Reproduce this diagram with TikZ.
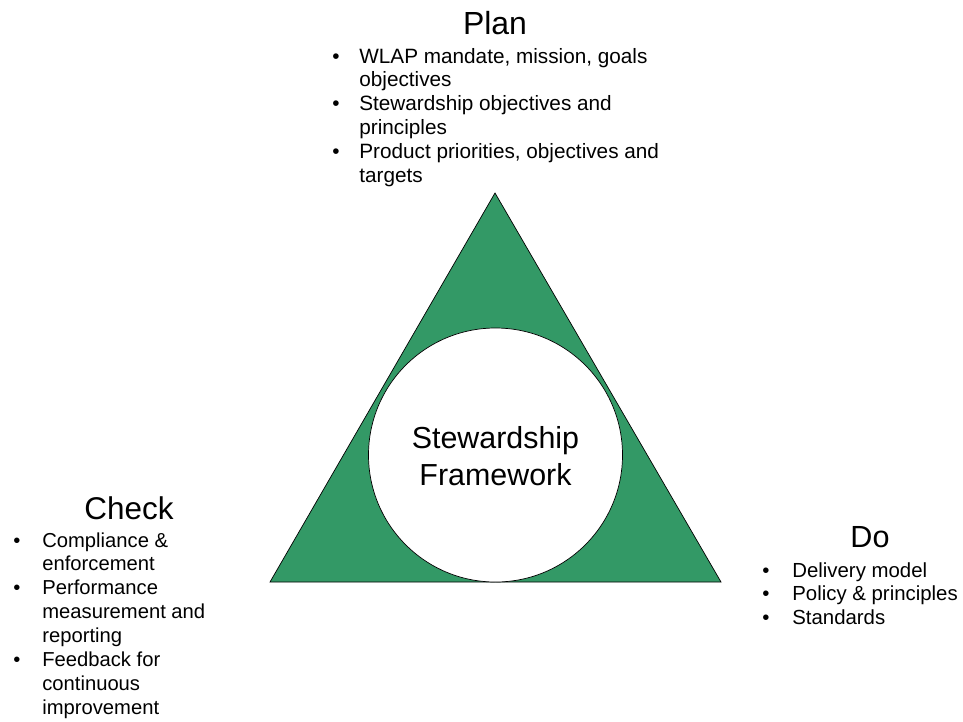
\documentclass[tikz,border=0pt]{standalone}
\usepackage{fontspec}
\setmainfont{Liberation Sans}
\usepackage{array}
\usepackage{tikz}

\definecolor{stewgreen}{RGB}{51,153,102}

% bullet list: first column holds the bullet, second the text
\newcommand{\blist}[2]{\begin{tabular}[t]{@{}p{#1}@{}l@{}}#2\end{tabular}}

\begin{document}
\begin{tikzpicture}[scale=0.2,
		heading/.style={anchor=base, font=\fontsize{#1}{20}\selectfont},
		bullets/.style={anchor=base west, align=left, font=\fontsize{#1}{13.6}\selectfont},
		core/.style={align=center, font=\fontsize{17.3}{21}\selectfont}]
						\tikzstyle{every node}+=[inner sep=0pt]
						\useasboundingbox (0,0) rectangle (96.3,-72.1);
						% triangle with the circle sitting on its base
						\filldraw [fill=stewgreen, draw=black, line width=0.4pt] (27,-58.2) -- (49.5,-19.3) -- (72.1,-58.2) -- cycle;
						\filldraw [fill=white, draw=black, line width=0.4pt] (49.55,-45.5) circle (12.7);
						\node [core] (frame) at (49.55,-45.6) {Stewardship\\Framework};
						% plan
						\node [heading=18.2] (plan) at (49.5,-3.5) {Plan};
						\node [bullets=11.8] (planlist) at (33.2,-6.3) {\blist{0.54cm}{%
							\textbullet & WLAP mandate, mission, goals\\
							& objectives\\
							\textbullet & Stewardship objectives and\\
							& principles\\
							\textbullet & Product priorities, objectives and\\
							& targets}};
						% check
						\node [heading=17.9] (check) at (12.9,-51.9) {Check};
						\node [bullets=11.5] (checklist) at (1.3,-54.7) {\blist{0.58cm}{%
							\textbullet & Compliance \&\\
							& enforcement\\
							\textbullet & Performance\\
							& measurement and\\
							& reporting\\
							\textbullet & Feedback for\\
							& continuous\\
							& improvement}};
						% do
						\node [heading=17.4] (do) at (87,-54.7) {Do};
						\node [bullets=11.6] (dolist) at (76.2,-57.7) {\blist{0.60cm}{%
							\textbullet & Delivery model\\
							\textbullet & Policy \& principles\\
							\textbullet & Standards}};
					\end{tikzpicture}
\end{document}
